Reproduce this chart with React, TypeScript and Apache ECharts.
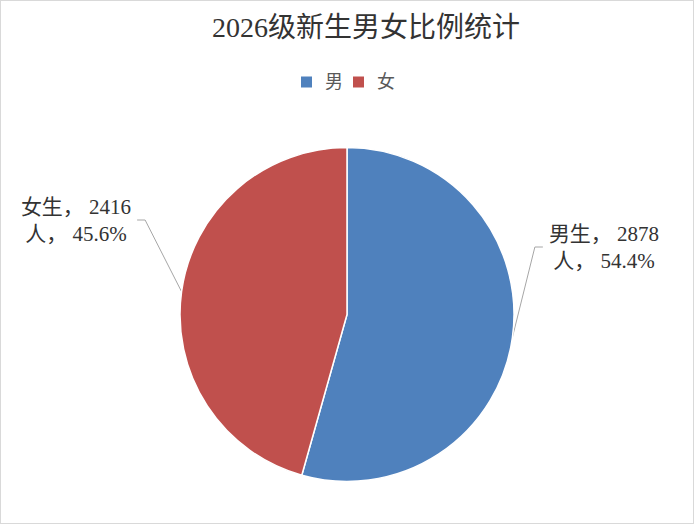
import { useEffect, useRef } from "react";
import * as echarts from "echarts";

const genders = ["男", "女"];
const labelNames = ["男生", "女生"];
const counts = [2878, 2416];
const colors = ["#4F81BD", "#C0504D"];

// where the data labels sit (Excel placed them by hand)
const labelSpots = [
  { x: 603, y: 246 },
  { x: 75, y: 219 },
];

const FONT = "'Liberation Serif', 'Noto Sans CJK SC', serif";

export default function App() {
  const ref = useRef<HTMLDivElement>(null);

  useEffect(() => {
    document.body.style.margin = "0";
    if (!ref.current) return;
    const chart = echarts.init(ref.current, undefined, { renderer: "svg" });

    chart.setOption({
      animation: false,
      backgroundColor: "#ffffff",
      title: {
        text: "2026级新生男女比例统计",
        left: 206,
        top: 7,
        textStyle: { fontFamily: FONT, fontSize: 28, fontWeight: "normal", color: "#333333" },
      },
      legend: {
        data: genders,
        top: 67,
        left: "center",
        icon: "rect",
        itemWidth: 13,
        itemHeight: 13,
        itemGap: 8,
        textStyle: {
          fontFamily: FONT,
          fontSize: 18,
          color: "#595959",
          padding: [0, 0, 0, 7],
        },
      },
      series: [
        {
          type: "pie",
          center: [346, 313.5],
          radius: 167,
          startAngle: 90,
          clockwise: true,
          avoidLabelOverlap: false,
          color: colors,
          itemStyle: { borderColor: "#ffffff", borderWidth: 1.5 },
          emphasis: { disabled: true },
          label: {
            position: "outside",
            alignTo: "none",
            fontFamily: FONT,
            fontSize: 21,
            lineHeight: 27,
            color: "#333333",
            backgroundColor: "rgba(0,0,0,0)",
            padding: [0, 6],
            formatter: (p: { dataIndex: number; value: number; percent: number }) =>
              `${labelNames[p.dataIndex]}， ${p.value}\n人， ${p.percent.toFixed(1)}%`,
          },
          labelLine: {
            show: true,
            length: 10,
            length2: 8,
            lineStyle: { color: "#a6a6a6", width: 1 },
          },
          labelLayout: (p: { dataIndex: number }) => ({
            x: labelSpots[p.dataIndex].x,
            y: labelSpots[p.dataIndex].y,
            align: "center",
            verticalAlign: "middle",
          }),
          data: genders.map((g, i) => ({ name: g, value: counts[i] })),
        },
      ],
    });

    return () => chart.dispose();
  }, []);

  return (
    <div
      ref={ref}
      style={{
        width: 694,
        height: 524,
        boxSizing: "border-box",
        border: "1px solid #d9d9d9",
      }}
    />
  );
}
